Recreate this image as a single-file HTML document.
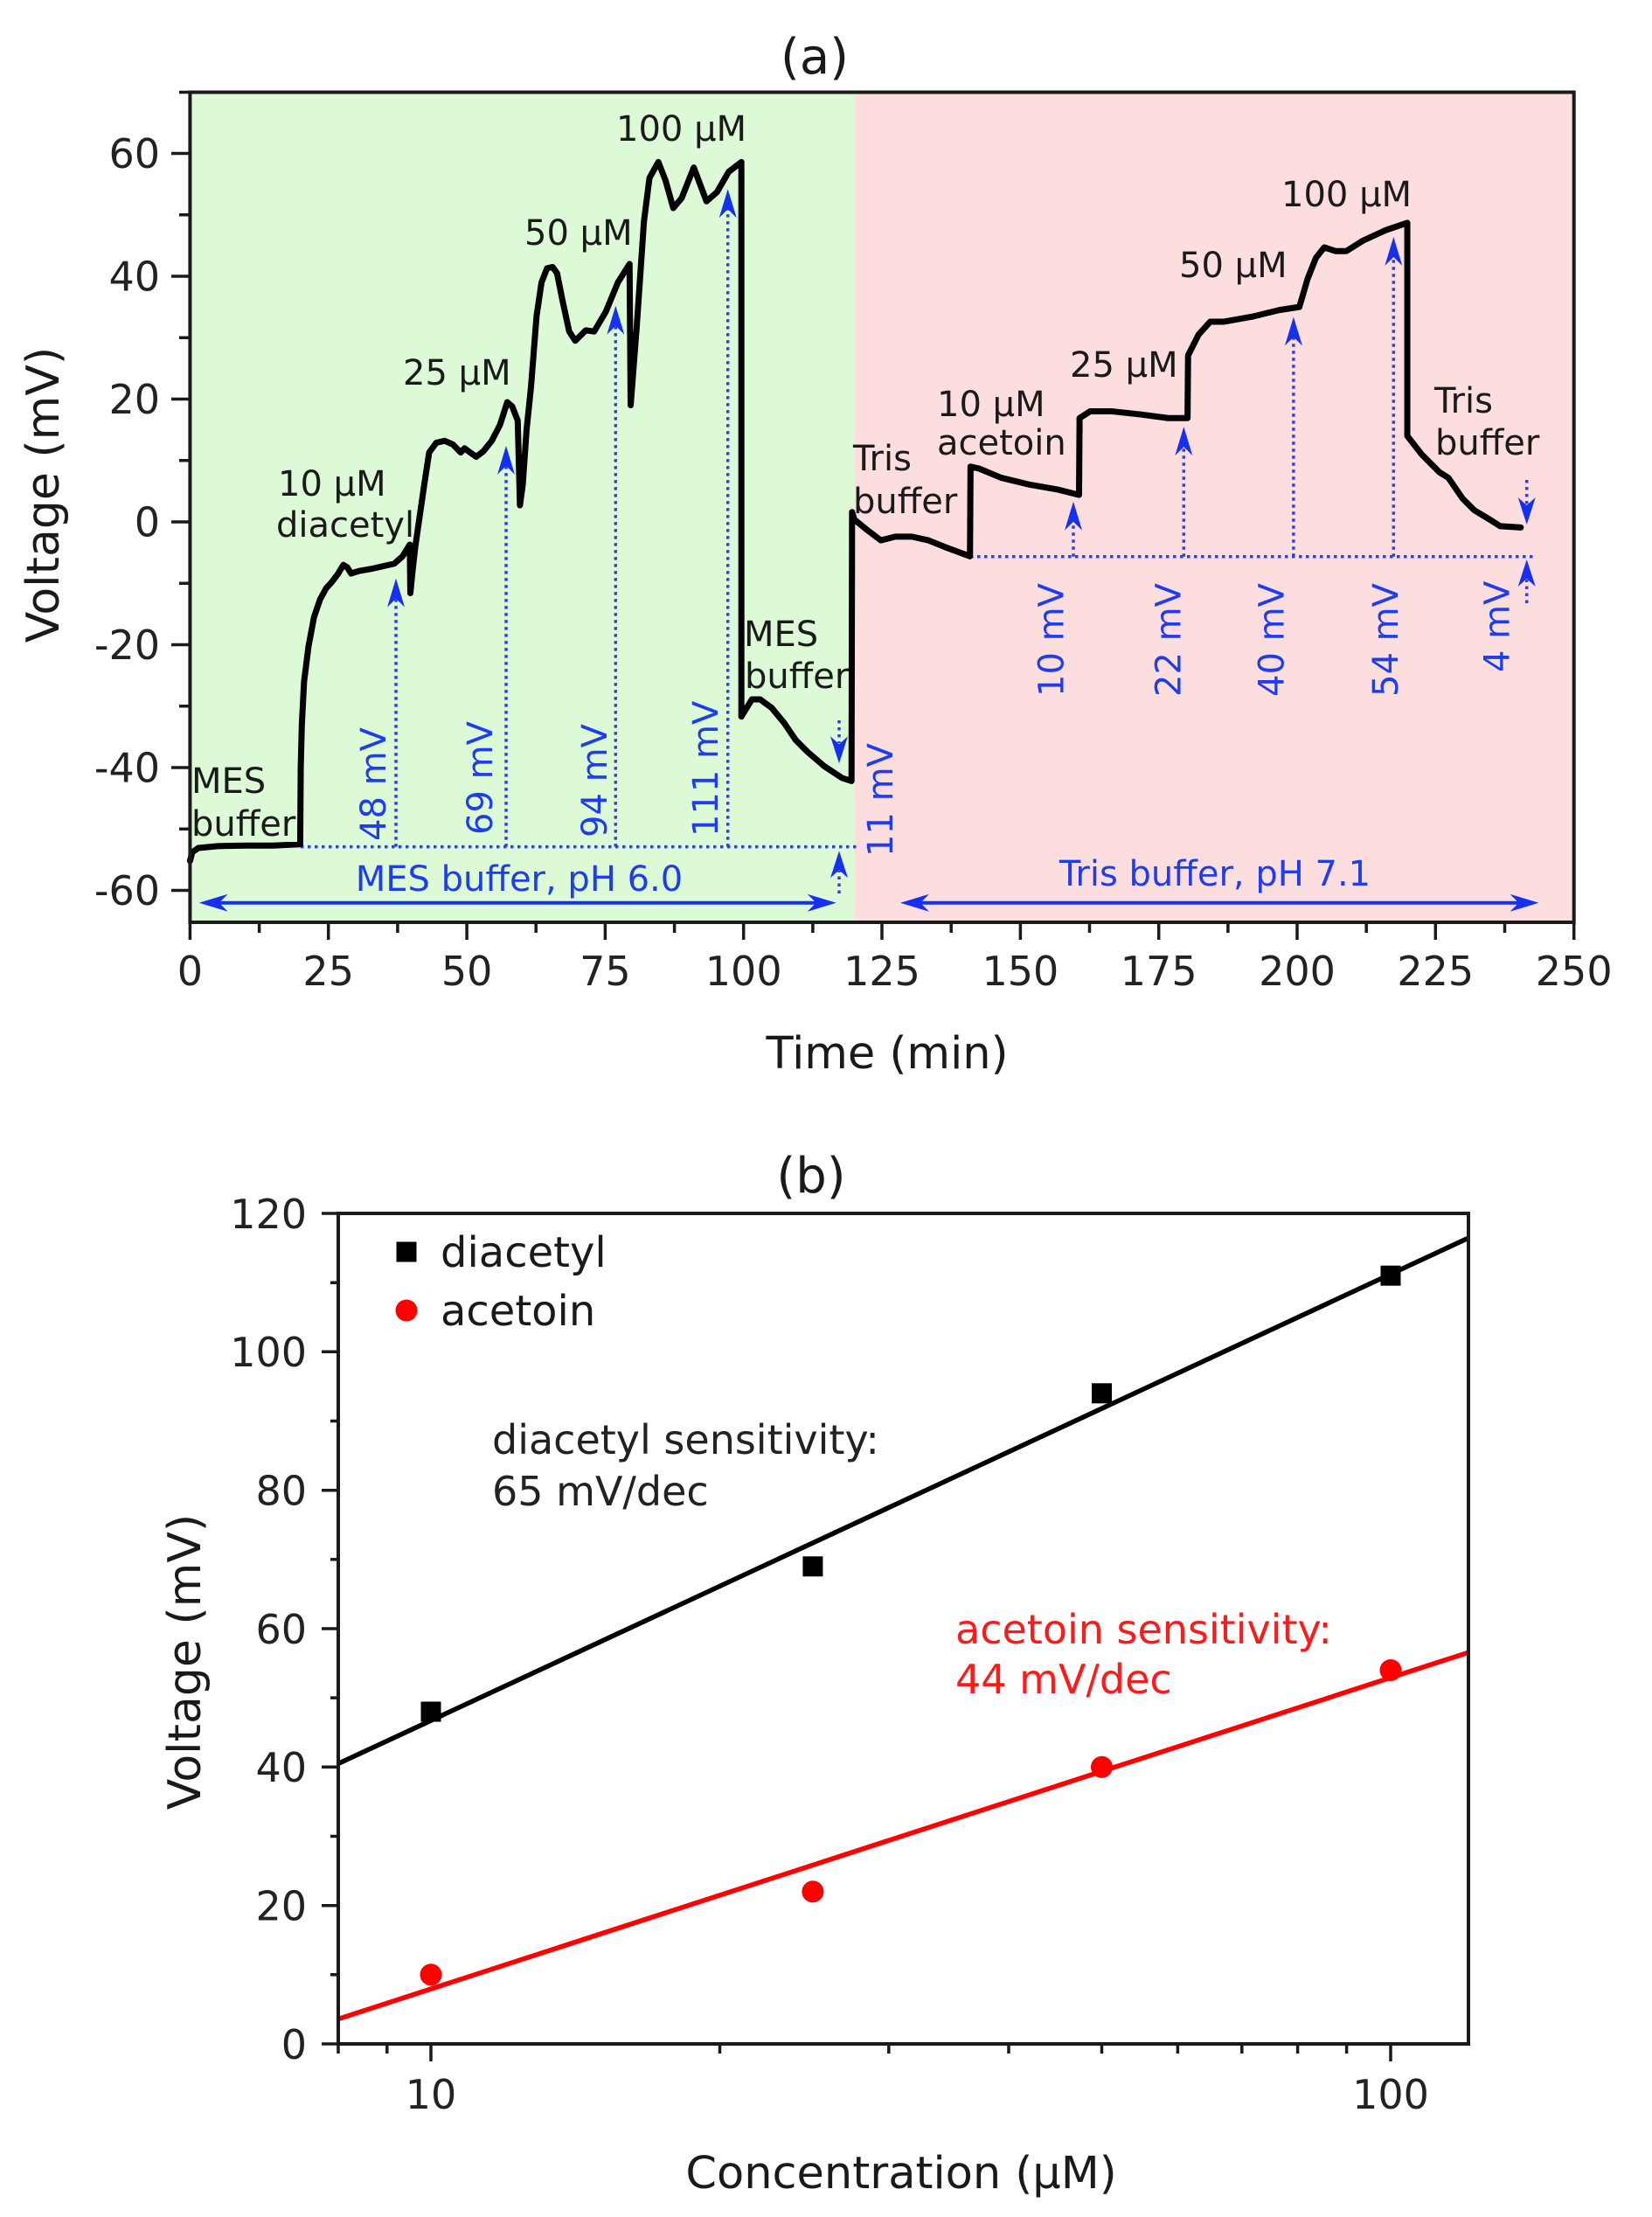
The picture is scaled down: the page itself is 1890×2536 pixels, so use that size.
<!DOCTYPE html>
<html>
<head>
<meta charset="utf-8">
<style>
  html, body { margin: 0; padding: 0; background: #ffffff; }
  svg { display: block; }
  text { font-family: "DejaVu Sans", "Liberation Sans", sans-serif; }
</style>
</head>
<body>
<svg width="1890" height="2536" viewBox="0 0 1890 2536" xmlns="http://www.w3.org/2000/svg">
  <rect x="0" y="0" width="1890" height="2536" fill="#ffffff"/>

  <!-- ================= PLOT (a) ================= -->
  <text x="932" y="84" font-size="56" text-anchor="middle" fill="#1a1a1a">(a)</text>

  <!-- backgrounds -->
  <rect x="217.4" y="105.5" width="760" height="949.5" fill="#ddfad6"/>
  <rect x="977.4" y="105.5" width="823.3" height="949.5" fill="#fddede"/>

  <!-- blue dotted baselines and verticals -->
  <g stroke="#2a40f0" stroke-width="3.5" stroke-dasharray="3.5,4.5" fill="none">
    <line x1="344" y1="968.6" x2="983" y2="968.6"/>
    <line x1="1110" y1="636.7" x2="1758" y2="636.7"/>
    <line x1="453" y1="968.6" x2="453" y2="684"/>
    <line x1="579" y1="968.6" x2="579" y2="533"/>
    <line x1="704.3" y1="968.6" x2="704.3" y2="373"/>
    <line x1="832.7" y1="968.6" x2="832.7" y2="239"/>
    <line x1="960" y1="1022" x2="960" y2="996"/>
    <line x1="960" y1="824" x2="960" y2="850"/>
    <line x1="1228" y1="636.7" x2="1228" y2="597"/>
    <line x1="1354.3" y1="636.7" x2="1354.3" y2="511"/>
    <line x1="1479.9" y1="636.7" x2="1479.9" y2="385"/>
    <line x1="1594.3" y1="636.7" x2="1594.3" y2="294"/>
    <line x1="1746.7" y1="549" x2="1746.7" y2="577"/>
    <line x1="1746.7" y1="690" x2="1746.7" y2="663"/>
  </g>
  <!-- arrowheads -->
  <g fill="#1430f0">
    <path d="M453,661.6 L443,694.6 L453,684.6 L463,694.6Z"/>
    <path d="M579,509.9 L569,542.9 L579,532.9 L589,542.9Z"/>
    <path d="M704.3,349.7 L694.3,382.7 L704.3,372.7 L714.3,382.7Z"/>
    <path d="M832.7,216.2 L822.7,249.2 L832.7,239.2 L842.7,249.2Z"/>
    <path d="M960,973.3 L950,1004.3 L960,995.3 L970,1004.3Z"/>
    <path d="M960,873.3 L950,842.3 L960,851.3 L970,842.3Z"/>
    <path d="M1228,573.8 L1218,606.8 L1228,596.8 L1238,606.8Z"/>
    <path d="M1354.3,488.1 L1344.3,521.1 L1354.3,511.1 L1364.3,521.1Z"/>
    <path d="M1479.9,362.5 L1469.9,395.5 L1479.9,385.5 L1489.9,395.5Z"/>
    <path d="M1594.3,271 L1584.3,304 L1594.3,294 L1604.3,304Z"/>
    <path d="M1746.7,600 L1736.7,569 L1746.7,578 L1756.7,569Z"/>
    <path d="M1746.7,640 L1736.7,671 L1746.7,662 L1756.7,671Z"/>
    <!-- horizontal double arrows -->
    <path d="M227.7,1032.7 L260.7,1022.7 L250.7,1032.7 L260.7,1042.7Z"/>
    <path d="M956.7,1032.7 L923.7,1022.7 L933.7,1032.7 L923.7,1042.7Z"/>
    <path d="M1030,1032.7 L1063,1022.7 L1053,1032.7 L1063,1042.7Z"/>
    <path d="M1760.5,1032.7 L1727.5,1022.7 L1737.5,1032.7 L1727.5,1042.7Z"/>
  </g>
  <g stroke="#1430f0" stroke-width="4">
    <line x1="250" y1="1032.7" x2="934" y2="1032.7"/>
    <line x1="1053" y1="1032.7" x2="1738" y2="1032.7"/>
  </g>

  <!-- trace -->
  <g transform="translate(217.4,597) scale(6.333,-7.025)">
    <path vector-effect="non-scaling-stroke" fill="none" stroke="#000" stroke-width="7" stroke-linejoin="round" stroke-linecap="round"
      d="M0,-55.2 L0.4,-53.8 L1.5,-53.1 L5,-52.8 L10,-52.7 L15,-52.7 L19.9,-52.5 L20.0,-40 L20.2,-33 L20.6,-26 L21.4,-20.3 L22.4,-15.5 L23.5,-12.6 L24.6,-10.8 L25.6,-9.8 L26.7,-8.5 L27.7,-7.0 L28.4,-7.4 L29.1,-8.4 L30.5,-8.0 L33,-7.6 L36.9,-6.8 L38.4,-5.6 L39.7,-3.7 L39.8,-11.6 L40.2,-8 L40.7,-4 L41.5,1 L42.3,6 L43.2,11.3 L44.5,12.9 L46,13.2 L47.5,12.6 L48.9,11.3 L49.6,12 L50.3,11.5 L51.7,10.6 L53,11.5 L54.5,13.2 L56,15.8 L57.3,19.5 L58.2,18.8 L59.2,16.5 L59.6,2.7 L60.1,6 L60.8,15 L61.6,22 L62.6,33.5 L63.5,39 L64.5,41.3 L65.5,41.5 L66.3,40.5 L67.3,36 L68.5,31 L69.6,29.5 L71.5,31.2 L73,31.0 L75.1,34.2 L77.3,39 L79.4,42 L79.6,19 L80.7,31.8 L82,48.9 L83,56 L84.6,58.6 L85.9,55.6 L87.3,51.1 L88.8,52.7 L91,57.7 L93.3,52.2 L95.2,53.7 L97.3,57 L99.6,58.6 L99.6,-31.7 L101.5,-28.9 L103,-28.9 L105.1,-30.3 L107.3,-32.7 L109.4,-35.5 L111.5,-37.4 L114.6,-39.8 L117.8,-41.7 L119.5,-42.2 L119.6,1.6 L120,0.4 L122.3,-1.3 L124.8,-3.0 L127.4,-2.4 L130.4,-2.4 L133.4,-3.0 L136.4,-4.1 L140.9,-5.6 L141.0,9.0 L142.5,8.7 L146.5,7.2 L151.5,6.1 L156.6,5.3 L160.6,4.4 L160.7,16.9 L162.6,18.0 L166.6,18.0 L171.7,17.5 L176.7,16.9 L180.2,16.9 L180.3,27.1 L182.2,30.5 L184.3,32.6 L186.8,32.6 L191.8,33.4 L196.8,34.5 L200.4,35.0 L201.9,39.6 L203.4,43.0 L204.9,44.7 L206.9,44.1 L208.9,44.1 L211.9,45.8 L216.0,47.5 L219.9,48.7 L219.9,14.0 L222.5,11.0 L225.7,8.1 L227.3,7.2 L229.9,3.8 L232.0,1.9 L234.6,0.5 L236.7,-0.7 L240.4,-0.9"/>
  </g>

  <!-- frame and ticks -->
  <rect x="217.4" y="105.5" width="1583.3" height="949.5" fill="none" stroke="#1a1a1a" stroke-width="4"/>
  <g stroke="#1a1a1a" stroke-width="3.5">
    <line x1="196" y1="1018.5" x2="217.4" y2="1018.5"/>
    <line x1="196" y1="878" x2="217.4" y2="878"/>
    <line x1="196" y1="737.5" x2="217.4" y2="737.5"/>
    <line x1="196" y1="597" x2="217.4" y2="597"/>
    <line x1="196" y1="456.5" x2="217.4" y2="456.5"/>
    <line x1="196" y1="316" x2="217.4" y2="316"/>
    <line x1="196" y1="175.5" x2="217.4" y2="175.5"/>
    <line x1="205" y1="948.25" x2="217.4" y2="948.25"/>
    <line x1="205" y1="807.75" x2="217.4" y2="807.75"/>
    <line x1="205" y1="667.25" x2="217.4" y2="667.25"/>
    <line x1="205" y1="526.75" x2="217.4" y2="526.75"/>
    <line x1="205" y1="386.25" x2="217.4" y2="386.25"/>
    <line x1="205" y1="245.75" x2="217.4" y2="245.75"/>
    <line x1="205" y1="105.5" x2="217.4" y2="105.5"/>
    <line x1="217.4" y1="1055" x2="217.4" y2="1075"/>
    <line x1="375.7" y1="1055" x2="375.7" y2="1075"/>
    <line x1="534.1" y1="1055" x2="534.1" y2="1075"/>
    <line x1="692.4" y1="1055" x2="692.4" y2="1075"/>
    <line x1="850.7" y1="1055" x2="850.7" y2="1075"/>
    <line x1="1009" y1="1055" x2="1009" y2="1075"/>
    <line x1="1167.4" y1="1055" x2="1167.4" y2="1075"/>
    <line x1="1325.7" y1="1055" x2="1325.7" y2="1075"/>
    <line x1="1484" y1="1055" x2="1484" y2="1075"/>
    <line x1="1642.3" y1="1055" x2="1642.3" y2="1075"/>
    <line x1="1800.7" y1="1055" x2="1800.7" y2="1075"/>
    <line x1="296.6" y1="1055" x2="296.6" y2="1067"/>
    <line x1="454.9" y1="1055" x2="454.9" y2="1067"/>
    <line x1="613.2" y1="1055" x2="613.2" y2="1067"/>
    <line x1="771.6" y1="1055" x2="771.6" y2="1067"/>
    <line x1="929.9" y1="1055" x2="929.9" y2="1067"/>
    <line x1="1088.2" y1="1055" x2="1088.2" y2="1067"/>
    <line x1="1246.5" y1="1055" x2="1246.5" y2="1067"/>
    <line x1="1404.9" y1="1055" x2="1404.9" y2="1067"/>
    <line x1="1563.2" y1="1055" x2="1563.2" y2="1067"/>
    <line x1="1721.5" y1="1055" x2="1721.5" y2="1067"/>
  </g>

  <!-- tick labels (a) -->
  <g font-size="46" fill="#222" text-anchor="end">
    <text x="183" y="1035">-60</text>
    <text x="183" y="894.5">-40</text>
    <text x="183" y="754">-20</text>
    <text x="183" y="613.5">0</text>
    <text x="183" y="473">20</text>
    <text x="183" y="332.5">40</text>
    <text x="183" y="192">60</text>
  </g>
  <g font-size="46" fill="#222" text-anchor="middle">
    <text x="217.4" y="1127">0</text>
    <text x="375.7" y="1127">25</text>
    <text x="534.1" y="1127">50</text>
    <text x="692.4" y="1127">75</text>
    <text x="850.7" y="1127">100</text>
    <text x="1009" y="1127">125</text>
    <text x="1167.4" y="1127">150</text>
    <text x="1325.7" y="1127">175</text>
    <text x="1484" y="1127">200</text>
    <text x="1642.3" y="1127">225</text>
    <text x="1800.7" y="1127">250</text>
  </g>
  <text x="1015" y="1222" font-size="51" fill="#1a1a1a" text-anchor="middle">Time (min)</text>
  <text transform="translate(67,566) rotate(-90)" font-size="52" fill="#1a1a1a" text-anchor="middle">Voltage (mV)</text>

  <!-- annotations (a) -->
  <g font-size="40" fill="#1a1a1a">
    <text x="219" y="907">MES</text>
    <text x="219" y="956">buffer</text>
    <text x="318" y="567">10 μM</text>
    <text x="316" y="614">diacetyl</text>
    <text x="461" y="440">25 μM</text>
    <text x="600" y="280">50 μM</text>
    <text x="705" y="161">100 μM</text>
    <text x="851" y="739">MES</text>
    <text x="852" y="787">buffer</text>
    <text x="976" y="538">Tris</text>
    <text x="976" y="587">buffer</text>
    <text x="1072" y="476">10 μM</text>
    <text x="1072" y="520">acetoin</text>
    <text x="1224" y="431">25 μM</text>
    <text x="1349" y="317">50 μM</text>
    <text x="1466" y="236">100 μM</text>
    <text x="1641" y="472">Tris</text>
    <text x="1642" y="520">buffer</text>
  </g>
  <g font-size="40" fill="#1e3cf0">
    <text x="594" y="1019" text-anchor="middle">MES buffer, pH 6.0</text>
    <text x="1390" y="1013" text-anchor="middle">Tris buffer, pH 7.1</text>
    <text transform="translate(441,962) rotate(-90)">48 mV</text>
    <text transform="translate(563,955) rotate(-90)">69 mV</text>
    <text transform="translate(694,958) rotate(-90)">94 mV</text>
    <text transform="translate(821,957) rotate(-90)">111 mV</text>
    <text transform="translate(1021,980) rotate(-90)">11 mV</text>
    <text transform="translate(1216.5,797) rotate(-90)">10 mV</text>
    <text transform="translate(1350.5,797) rotate(-90)">22 mV</text>
    <text transform="translate(1468.5,797) rotate(-90)">40 mV</text>
    <text transform="translate(1599,797) rotate(-90)">54 mV</text>
    <text transform="translate(1726.5,769) rotate(-90)">4 mV</text>
  </g>

  <!-- ================= PLOT (b) ================= -->
  <text x="928" y="1364" font-size="56" text-anchor="middle" fill="#1a1a1a">(b)</text>

  <defs>
    <clipPath id="clipb"><rect x="387" y="1388" width="1293" height="950"/></clipPath>
  </defs>
  <g clip-path="url(#clipb)">
    <line x1="387" y1="2017.4" x2="1680" y2="1416.1" stroke="#000" stroke-width="5.5"/>
    <line x1="387" y1="2309.5" x2="1680" y2="1890.2" stroke="#ff0000" stroke-width="5.5"/>
  </g>

  <!-- data points -->
  <g fill="#000">
    <rect x="481.5" y="1946.5" width="23" height="23"/>
    <rect x="918.4" y="1780.3" width="23" height="23"/>
    <rect x="1249" y="1582.3" width="23" height="23"/>
    <rect x="1579.5" y="1447.7" width="23" height="23"/>
  </g>
  <g fill="#ff0000">
    <circle cx="493" cy="2258.8" r="12.5"/>
    <circle cx="929.9" cy="2163.8" r="12.5"/>
    <circle cx="1260.5" cy="2021.3" r="12.5"/>
    <circle cx="1591" cy="1910.5" r="12.5"/>
  </g>

  <!-- frame and ticks (b) -->
  <rect x="387" y="1388" width="1293" height="950" fill="none" stroke="#1a1a1a" stroke-width="4"/>
  <g stroke="#1a1a1a" stroke-width="3.5">
    <line x1="368" y1="2338" x2="387" y2="2338"/>
    <line x1="368" y1="2179.7" x2="387" y2="2179.7"/>
    <line x1="368" y1="2021.3" x2="387" y2="2021.3"/>
    <line x1="368" y1="1863" x2="387" y2="1863"/>
    <line x1="368" y1="1704.7" x2="387" y2="1704.7"/>
    <line x1="368" y1="1546.3" x2="387" y2="1546.3"/>
    <line x1="368" y1="1388" x2="387" y2="1388"/>
    <line x1="378" y1="2258.8" x2="387" y2="2258.8"/>
    <line x1="378" y1="2100.5" x2="387" y2="2100.5"/>
    <line x1="378" y1="1942.1" x2="387" y2="1942.1"/>
    <line x1="378" y1="1783.8" x2="387" y2="1783.8"/>
    <line x1="378" y1="1625.5" x2="387" y2="1625.5"/>
    <line x1="378" y1="1467.2" x2="387" y2="1467.2"/>
    <line x1="493" y1="2338" x2="493" y2="2358"/>
    <line x1="1591" y1="2338" x2="1591" y2="2358"/>
    <line x1="387" y1="2338" x2="387" y2="2349"/>
    <line x1="442.8" y1="2338" x2="442.8" y2="2349"/>
    <line x1="823.5" y1="2338" x2="823.5" y2="2349"/>
    <line x1="1016.8" y1="2338" x2="1016.8" y2="2349"/>
    <line x1="1154" y1="2338" x2="1154" y2="2349"/>
    <line x1="1260.5" y1="2338" x2="1260.5" y2="2349"/>
    <line x1="1347.4" y1="2338" x2="1347.4" y2="2349"/>
    <line x1="1420.8" y1="2338" x2="1420.8" y2="2349"/>
    <line x1="1484.6" y1="2338" x2="1484.6" y2="2349"/>
    <line x1="1540.6" y1="2338" x2="1540.6" y2="2349"/>
  </g>

  <g font-size="46" fill="#222" text-anchor="end">
    <text x="351" y="2355">0</text>
    <text x="351" y="2196.5">20</text>
    <text x="351" y="2038">40</text>
    <text x="351" y="1880">60</text>
    <text x="351" y="1721.5">80</text>
    <text x="351" y="1563">100</text>
    <text x="351" y="1405">120</text>
  </g>
  <g font-size="46" fill="#222" text-anchor="middle">
    <text x="493" y="2412">10</text>
    <text x="1591" y="2412">100</text>
  </g>
  <text x="1031" y="2503" font-size="51" fill="#1a1a1a" text-anchor="middle">Concentration (μM)</text>
  <text transform="translate(229,1901) rotate(-90)" font-size="52" fill="#1a1a1a" text-anchor="middle">Voltage (mV)</text>

  <!-- legend -->
  <rect x="453.5" y="1420.5" width="23" height="23" fill="#000"/>
  <circle cx="465" cy="1499" r="12.5" fill="#ff0000"/>
  <g font-size="48" fill="#1a1a1a">
    <text x="504" y="1449">diacetyl</text>
    <text x="504" y="1516">acetoin</text>
  </g>

  <!-- annotations (b) -->
  <g font-size="46" fill="#222">
    <text x="563" y="1663">diacetyl sensitivity:</text>
    <text x="563" y="1722">65 mV/dec</text>
  </g>
  <g font-size="46" fill="#ff1a1a">
    <text x="1093" y="1880">acetoin sensitivity:</text>
    <text x="1093" y="1937">44 mV/dec</text>
  </g>
</svg>
</body>
</html>
